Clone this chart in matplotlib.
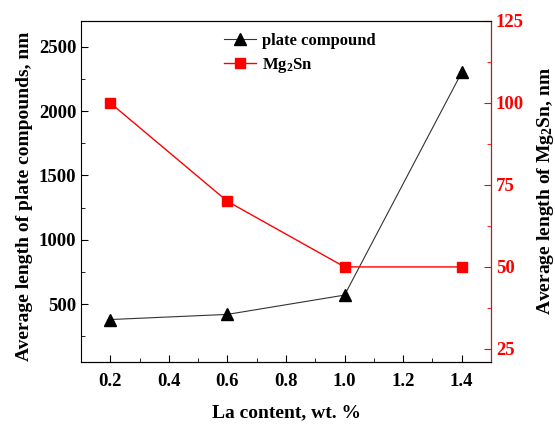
import numpy as np
import matplotlib.pyplot as plt
from matplotlib.ticker import MultipleLocator

plt.rcParams['font.family'] = 'Liberation Serif'
plt.rcParams['font.weight'] = 'bold'
plt.rcParams['mathtext.fontset'] = 'custom'
plt.rcParams['mathtext.rm'] = 'Liberation Serif:bold'
plt.rcParams['mathtext.it'] = 'Liberation Serif:bold'

la = [0.2, 0.6, 1.0, 1.4]
plate = [380, 420, 570, 2300]
mg2sn = [100, 70, 50, 50]

fig = plt.figure(figsize=(5.55, 4.24), dpi=100)
ax1 = fig.add_axes([81/555, 1-362/424, 410/555, 341/424])
ax2 = ax1.twinx()

l1, = ax1.plot(la, plate, color='#333333', lw=0.8, marker='^', ms=8,
               mfc='black', mec='black', label='plate compound')
l2, = ax2.plot(la, mg2sn, color='red', lw=1.0, marker='s', ms=7,
               mfc='red', mec='red', label=r'Mg$_2$Sn')

ax1.set_xlim(0.1, 1.5)
ax1.set_ylim(50, 2700)
ax2.set_ylim(21, 125)

ax1.xaxis.set_major_locator(MultipleLocator(0.2))
ax1.xaxis.set_minor_locator(MultipleLocator(0.1))
ax1.yaxis.set_major_locator(MultipleLocator(500))
ax1.yaxis.set_minor_locator(MultipleLocator(250))
ax2.yaxis.set_major_locator(MultipleLocator(25))
ax2.yaxis.set_minor_locator(MultipleLocator(12.5))

ax1.tick_params(which='both', direction='in', labelsize=13.5, top=False)
ax1.tick_params(which='major', length=5)
ax1.tick_params(which='minor', length=3)
ax1.tick_params(axis='x', pad=8)
ax2.tick_params(which='both', direction='in', colors='red', labelsize=13.5)
ax2.tick_params(which='major', length=5)
ax2.tick_params(which='minor', length=3)
ax2.spines['right'].set_color('red')
ax2.spines['left'].set_visible(False)

for lab in ax1.get_xticklabels() + ax1.get_yticklabels() + ax2.get_yticklabels():
    lab.set_fontweight('bold')

ax1.set_xlabel('La content, wt. %', fontsize=14, fontweight='bold')
ax1.xaxis.set_label_coords(0.5, -0.125)
ax1.set_ylabel('Average length of plate compounds, nm', fontsize=14, fontweight='bold')
ax1.yaxis.set_label_coords(-0.117, 0.487)
ax2.set_ylabel(r'Average length of Mg$_2$Sn, nm', fontsize=14, fontweight='bold')
ax2.yaxis.set_label_coords(1.107, 0.5)

ax1.legend([l1, l2], ['plate compound', r'Mg$_2$Sn'], loc='upper left',
           bbox_to_anchor=(0.32, 1.0), frameon=False, fontsize=12,
           handlelength=1.9, handletextpad=0.4, borderaxespad=0.3, labelspacing=0.45)

fig.savefig('out.png', dpi=100)
